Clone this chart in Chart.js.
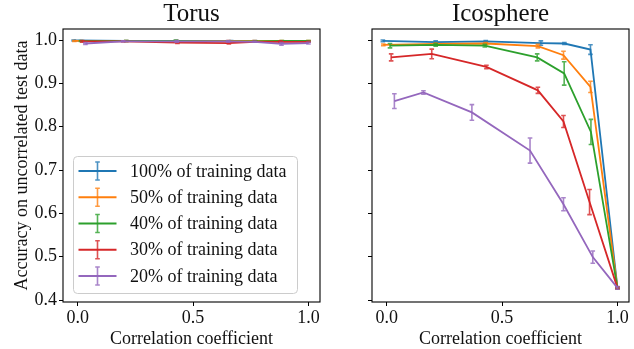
<!DOCTYPE html>
<html>
<head>
<meta charset="utf-8">
<script src="https://cdn.jsdelivr.net/npm/chart.js@4.4.1/dist/chart.umd.min.js"></script>
<style>
  html, body { margin: 0; padding: 0; background: #fff; overflow: hidden; }
  #wrap { position: relative; width: 634px; height: 349px; }
  #torusChart { position: absolute; left: 0; top: 0; }
  #icoChart { position: absolute; left: 330px; top: 0; }
</style>
</head>
<body>
<div id="wrap">
  <canvas id="torusChart" width="330" height="349"></canvas>
  <canvas id="icoChart" width="304" height="349"></canvas>
</div>
<script>
// ---- series ----
const seriesLabels = [
  '100% of training data',
  '50% of training data',
  '40% of training data',
  '30% of training data',
  '20% of training data'
];
const seriesColors = ['#1f77b4', '#ff7f0e', '#2ca02c', '#d62728', '#9467bd'];

const panelTitles = ['Torus', 'Icosphere'];
const xAxisTitle = 'Correlation coefficient';
const yAxisTitle = 'Accuracy on uncorrelated test data';
const xTicks = [0.0, 0.5, 1.0];
const yTicks = [0.4, 0.5, 0.6, 0.7, 0.8, 0.9, 1.0];

// ---- Torus: correlation coefficient, mean accuracy, error ----
const torusX100 = [-0.018, 0.210, 0.429, 0.665, 0.768, 0.883, 1.0];
const torusY100 = [0.999, 0.998, 0.998, 0.998, 0.998, 0.997, 0.997];
const torusE100 = [0.001, 0.001, 0.001, 0.001, 0.001, 0.001, 0.001];

const torusX50 = [-0.015, 0.210, 0.429, 0.655, 0.766, 0.883, 1.0];
const torusY50 = [0.998, 0.998, 0.998, 0.998, 0.998, 0.998, 0.998];
const torusE50 = [0.001, 0.001, 0.001, 0.001, 0.001, 0.001, 0.001];

const torusX40 = [0.014, 0.210, 0.425, 0.652, 0.769, 0.885, 1.0];
const torusY40 = [0.998, 0.998, 0.998, 0.997, 0.997, 0.998, 0.998];
const torusE40 = [0.001, 0.001, 0.002, 0.001, 0.001, 0.001, 0.001];

const torusX30 = [0.019, 0.197, 0.432, 0.655, 0.766, 0.879, 1.0];
const torusY30 = [0.997, 0.997, 0.994, 0.993, 0.996, 0.996, 0.996];
const torusE30 = [0.002, 0.001, 0.002, 0.002, 0.001, 0.002, 0.001];

const torusX20 = [0.033, 0.197, 0.429, 0.652, 0.766, 0.883, 1.0];
const torusY20 = [0.992, 0.997, 0.997, 0.997, 0.996, 0.991, 0.993];
const torusE20 = [0.002, 0.001, 0.002, 0.002, 0.001, 0.003, 0.002];

// ---- Icosphere ----
const icoX100 = [-0.017, 0.212, 0.429, 0.668, 0.770, 0.883, 1.0];
const icoY100 = [0.998, 0.995, 0.997, 0.993, 0.992, 0.978, 0.428];
const icoE100 = [0.002, 0.003, 0.002, 0.005, 0.002, 0.011, 0.002];

const icoX50 = [-0.015, 0.212, 0.429, 0.655, 0.766, 0.883, 1.0];
const icoY50 = [0.989, 0.991, 0.992, 0.986, 0.965, 0.892, 0.428];
const icoE50 = [0.002, 0.002, 0.002, 0.004, 0.009, 0.013, 0.002];

const icoX40 = [0.014, 0.212, 0.425, 0.652, 0.769, 0.885, 1.0];
const icoY40 = [0.987, 0.989, 0.987, 0.960, 0.923, 0.788, 0.428];
const icoE40 = [0.005, 0.003, 0.003, 0.008, 0.027, 0.029, 0.002];

const icoX30 = [0.019, 0.195, 0.432, 0.655, 0.766, 0.879, 1.0];
const icoY30 = [0.960, 0.968, 0.938, 0.884, 0.812, 0.626, 0.428];
const icoE30 = [0.008, 0.011, 0.004, 0.007, 0.014, 0.029, 0.002];

const icoX20 = [0.033, 0.159, 0.369, 0.621, 0.766, 0.893, 1.0];
const icoY20 = [0.859, 0.879, 0.833, 0.745, 0.621, 0.499, 0.428];
const icoE20 = [0.017, 0.004, 0.018, 0.029, 0.015, 0.014, 0.003];

// ---- shared styling ----
const FONT = "'Liberation Serif', 'Times New Roman', serif";
const TEXT = '#111';
const X_MIN = -0.064, X_MAX = 1.05;
const Y_MIN = 0.3954, Y_MAX = 1.0255;
const AREA_TOP = 29, AREA_BOTTOM = 302, CANVAS_H = 349;

function withAlpha(hex, a) {
  const n = parseInt(hex.slice(1), 16);
  return `rgba(${(n >> 16) & 255},${(n >> 8) & 255},${n & 255},${a})`;
}

function makeDatasets(xs, ys, es) {
  return seriesLabels.map((label, i) => ({
    label,
    data: xs[i].map((x, j) => ({ x, y: ys[i][j] })),
    err: es[i],
    borderColor: seriesColors[i],
    backgroundColor: seriesColors[i],
    borderWidth: 1.8,
    pointRadius: 0,
    pointHoverRadius: 0,
    showLine: true,
    tension: 0,
    order: seriesLabels.length - i
  }));
}

function drawErrorBar(ctx, px, top, bot, color) {
  ctx.strokeStyle = color;
  ctx.lineWidth = 1.6;
  ctx.beginPath();
  ctx.moveTo(px, top); ctx.lineTo(px, bot);
  ctx.moveTo(px - 2.3, top); ctx.lineTo(px + 2.3, top);
  ctx.moveTo(px - 2.3, bot); ctx.lineTo(px + 2.3, bot);
  ctx.stroke();
}

// vertical error bars, drawn right after each series' line
const errorBars = {
  id: 'errorBars',
  afterDatasetDraw(chart, args) {
    const ds = chart.data.datasets[args.index];
    const { ctx, scales: { x, y } } = chart;
    ctx.save();
    ds.data.forEach((p, j) => {
      const e = ds.err[j];
      drawErrorBar(ctx, x.getPixelForValue(p.x), y.getPixelForValue(p.y + e),
                   y.getPixelForValue(p.y - e), withAlpha(ds.borderColor, 0.8));
    });
    ctx.restore();
  }
};

// axes frame, panel title, axis titles, legend
const decorations = {
  id: 'decorations',
  afterDraw(chart, args, opts) {
    const { ctx, chartArea: a } = chart;
    ctx.save();
    ctx.strokeStyle = '#000';
    ctx.lineWidth = 1.1;
    ctx.strokeRect(a.left, a.top, a.right - a.left, a.bottom - a.top);

    ctx.fillStyle = TEXT;
    ctx.textAlign = 'center';
    ctx.textBaseline = 'alphabetic';
    ctx.font = `25px ${FONT}`;
    ctx.fillText(opts.title, (a.left + a.right) / 2, 21);

    ctx.font = `18px ${FONT}`;
    ctx.fillText(xAxisTitle, (a.left + a.right) / 2, 343.5);

    if (opts.yTitle) {
      ctx.save();
      ctx.translate(27, (a.top + a.bottom) / 2);
      ctx.rotate(-Math.PI / 2);
      ctx.fillText(yAxisTitle, 0, 0);
      ctx.restore();
    }

    if (opts.legend) {
      const bx = 73, by = 156, bw = 224, bh = 137;
      ctx.beginPath();
      ctx.roundRect(bx + 0.5, by + 0.5, bw, bh, 4);
      ctx.fillStyle = 'rgba(255,255,255,0.8)';
      ctx.fill();
      ctx.strokeStyle = '#cccccc';
      ctx.lineWidth = 1;
      ctx.stroke();
      ctx.textAlign = 'left';
      ctx.textBaseline = 'middle';
      seriesLabels.forEach((label, i) => {
        const cy = 171 + i * 26.25;
        ctx.strokeStyle = seriesColors[i];
        ctx.lineWidth = 1.8;
        ctx.beginPath();
        ctx.moveTo(78.5, cy); ctx.lineTo(116.5, cy);
        ctx.stroke();
        drawErrorBar(ctx, 97.5, cy - 9, cy + 9, withAlpha(seriesColors[i], 0.8));
        ctx.fillStyle = TEXT;
        ctx.fillText(label, 130, cy + 1);
      });
    }
    ctx.restore();
  }
};

function makeChart(id, datasets, cfg) {
  return new Chart(document.getElementById(id), {
    type: 'scatter',
    data: { datasets },
    plugins: [errorBars, decorations],
    options: {
      responsive: false,
      animation: false,
      events: [],
      layout: { padding: { left: 0, right: cfg.padRight, top: AREA_TOP, bottom: 0 } },
      plugins: {
        legend: { display: false },
        tooltip: { enabled: false },
        decorations: { title: cfg.title, yTitle: cfg.yTitle, legend: cfg.legend }
      },
      scales: {
        x: {
          type: 'linear',
          min: X_MIN, max: X_MAX,
          afterBuildTicks: s => { s.ticks = xTicks.map(v => ({ value: v })); },
          afterFit: s => { s.height = CANVAS_H - AREA_BOTTOM; },
          ticks: {
            callback: v => v.toFixed(1),
            font: { family: FONT, size: 18 },
            color: TEXT, padding: 1, maxRotation: 0, autoSkip: false
          },
          grid: { drawOnChartArea: false, drawTicks: true, tickLength: 4, tickWidth: 1, tickColor: '#000' },
          border: { display: false }
        },
        y: {
          type: 'linear',
          min: Y_MIN, max: Y_MAX,
          afterBuildTicks: s => { s.ticks = yTicks.map(v => ({ value: v })); },
          afterFit: s => { s.width = cfg.yWidth; },
          ticks: {
            display: cfg.yLabels,
            callback: v => v.toFixed(1),
            font: { family: FONT, size: 18 },
            color: TEXT, padding: 2, autoSkip: false
          },
          grid: { drawOnChartArea: false, drawTicks: true, tickLength: 4, tickWidth: 1, tickColor: '#000' },
          border: { display: false }
        }
      }
    }
  });
}

makeChart('torusChart',
  makeDatasets(
    [torusX100, torusX50, torusX40, torusX30, torusX20],
    [torusY100, torusY50, torusY40, torusY30, torusY20],
    [torusE100, torusE50, torusE40, torusE30, torusE20]),
  { title: panelTitles[0], yTitle: true, legend: true, yLabels: true, yWidth: 63, padRight: 10 });

makeChart('icoChart',
  makeDatasets(
    [icoX100, icoX50, icoX40, icoX30, icoX20],
    [icoY100, icoY50, icoY40, icoY30, icoY20],
    [icoE100, icoE50, icoE40, icoE30, icoE20]),
  { title: panelTitles[1], yTitle: false, legend: false, yLabels: false, yWidth: 42, padRight: 5 });
</script>
</body>
</html>
